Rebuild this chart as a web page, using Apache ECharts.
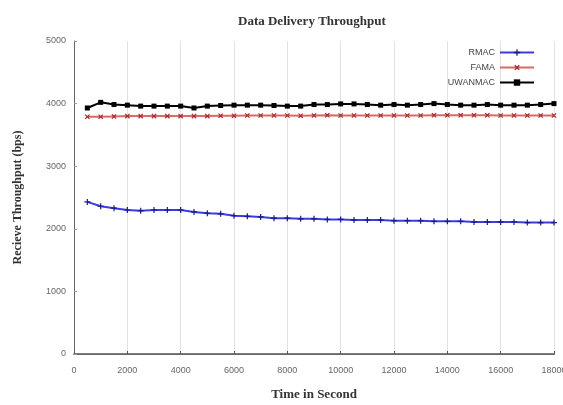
<!DOCTYPE html>
<html>
<head>
<meta charset="utf-8">
<script src="https://cdn.jsdelivr.net/npm/echarts@6/dist/echarts.min.js"></script>
<style>html,body{margin:0;padding:0;background:#fff}#c{width:563px;height:405px}</style>
</head>
<body>
<div id="c"></div>
<script>
const times = [500,1000,1500,2000,2500,3000,3500,4000,4500,5000,5500,6000,6500,7000,7500,8000,8500,9000,9500,10000,10500,11000,11500,12000,12500,13000,13500,14000,14500,15000,15500,16000,16500,17000,17500,18000];
const rmac = [2430,2360,2330,2300,2290,2300,2300,2300,2270,2250,2240,2210,2200,2190,2170,2170,2160,2160,2150,2150,2140,2140,2140,2130,2130,2130,2120,2120,2120,2110,2110,2110,2110,2100,2100,2100];
const fama = [3790,3790,3795,3800,3800,3800,3800,3800,3800,3800,3805,3805,3810,3810,3810,3810,3805,3810,3815,3810,3810,3810,3810,3810,3810,3810,3815,3815,3815,3815,3815,3810,3810,3810,3810,3810];
const uwanmac = [3930,4020,3985,3975,3960,3960,3960,3960,3930,3960,3970,3975,3975,3975,3970,3960,3960,3985,3985,3995,3995,3985,3975,3985,3975,3985,4000,3985,3975,3975,3985,3975,3975,3975,3985,4000];
const seriesNames = ['RMAC','FAMA','UWANMAC'];
const titleText = 'Data Delivery Throughput';
const xName = 'Time in Second';
const yName = 'Recieve Throughput (bps)';

const pair = (ys) => times.map((t, i) => [t, ys[i]]);
const plus = 'path://M4,0H6V4H10V6H6V10H4V6H0V4H4Z';
const serif = 'Liberation Serif';
const plain = (v) => String(v);

const chart = echarts.init(document.getElementById('c'), null, {renderer: 'canvas'});
chart.setOption({
  animation: false,
  backgroundColor: '#fff',
  title: {
    text: titleText, left: 233, top: 10,
    textStyle: {fontFamily: serif, fontSize: 13, fontWeight: 'bold', color: '#333'}
  },
  legend: {
    orient: 'vertical', right: 23, top: 43, align: 'right',
    itemWidth: 34, itemHeight: 8, itemGap: 6,
    textStyle: {fontFamily: 'Liberation Sans', fontSize: 9, color: '#444'},
    data: seriesNames
  },
  grid: {left: 74, right: 9, top: 41, bottom: 51, outerBoundsMode: 'none', containLabel: false},
  xAxis: [{
    type: 'value', min: 0, max: 18000, interval: 2000,
    name: xName, nameLocation: 'middle', nameGap: 34,
    nameTextStyle: {fontFamily: serif, fontSize: 13, fontWeight: 'bold', color: '#333'},
    axisLine: {show: true, lineStyle: {color: '#555', width: 1.5}},
    axisTick: {show: true, inside: true, length: 3, lineStyle: {color: '#555'}},
    axisLabel: {fontFamily: 'Liberation Sans', fontSize: 9, color: '#666', margin: 12, formatter: plain},
    splitLine: {show: true, lineStyle: {color: '#e2e2e2', width: 1}}
  }, {
    type: 'value', position: 'top', min: 0, max: 18000,
    axisLine: {show: true, lineStyle: {color: '#666', width: 1}},
    axisTick: {show: false}, axisLabel: {show: false}, splitLine: {show: false}
  }],
  yAxis: [{
    type: 'value', min: 0, max: 5000, interval: 1000,
    name: yName, nameLocation: 'middle', nameGap: 50,
    nameTextStyle: {fontFamily: serif, fontSize: 12, fontWeight: 'bold', color: '#333'},
    axisLine: {show: false},
    axisTick: {show: true, inside: true, length: 3, lineStyle: {color: '#999'}},
    axisLabel: {fontFamily: 'Liberation Sans', fontSize: 9, color: '#666', margin: 8, formatter: plain},
    splitLine: {show: false}
  }, {
    type: 'value', position: 'right', min: 0, max: 5000,
    axisLine: {show: true, lineStyle: {color: '#666', width: 1}},
    axisTick: {show: false}, axisLabel: {show: false}, splitLine: {show: false}
  }],
  series: [
    {
      name: seriesNames[0], type: 'line', data: pair(rmac),
      symbol: plus, symbolSize: 6,
      itemStyle: {color: '#1a1a8a'},
      lineStyle: {color: '#3c3ce0', width: 2}
    },
    {
      name: seriesNames[1], type: 'line', data: pair(fama),
      symbol: plus, symbolSize: 6, symbolRotate: 45,
      itemStyle: {color: '#a82828'},
      lineStyle: {color: '#d86a6a', width: 2}
    },
    {
      name: seriesNames[2], type: 'line', data: pair(uwanmac),
      symbol: 'rect', symbolSize: 5,
      itemStyle: {color: '#000'},
      lineStyle: {color: '#000', width: 2}
    }
  ]
});
</script>
</body>
</html>
